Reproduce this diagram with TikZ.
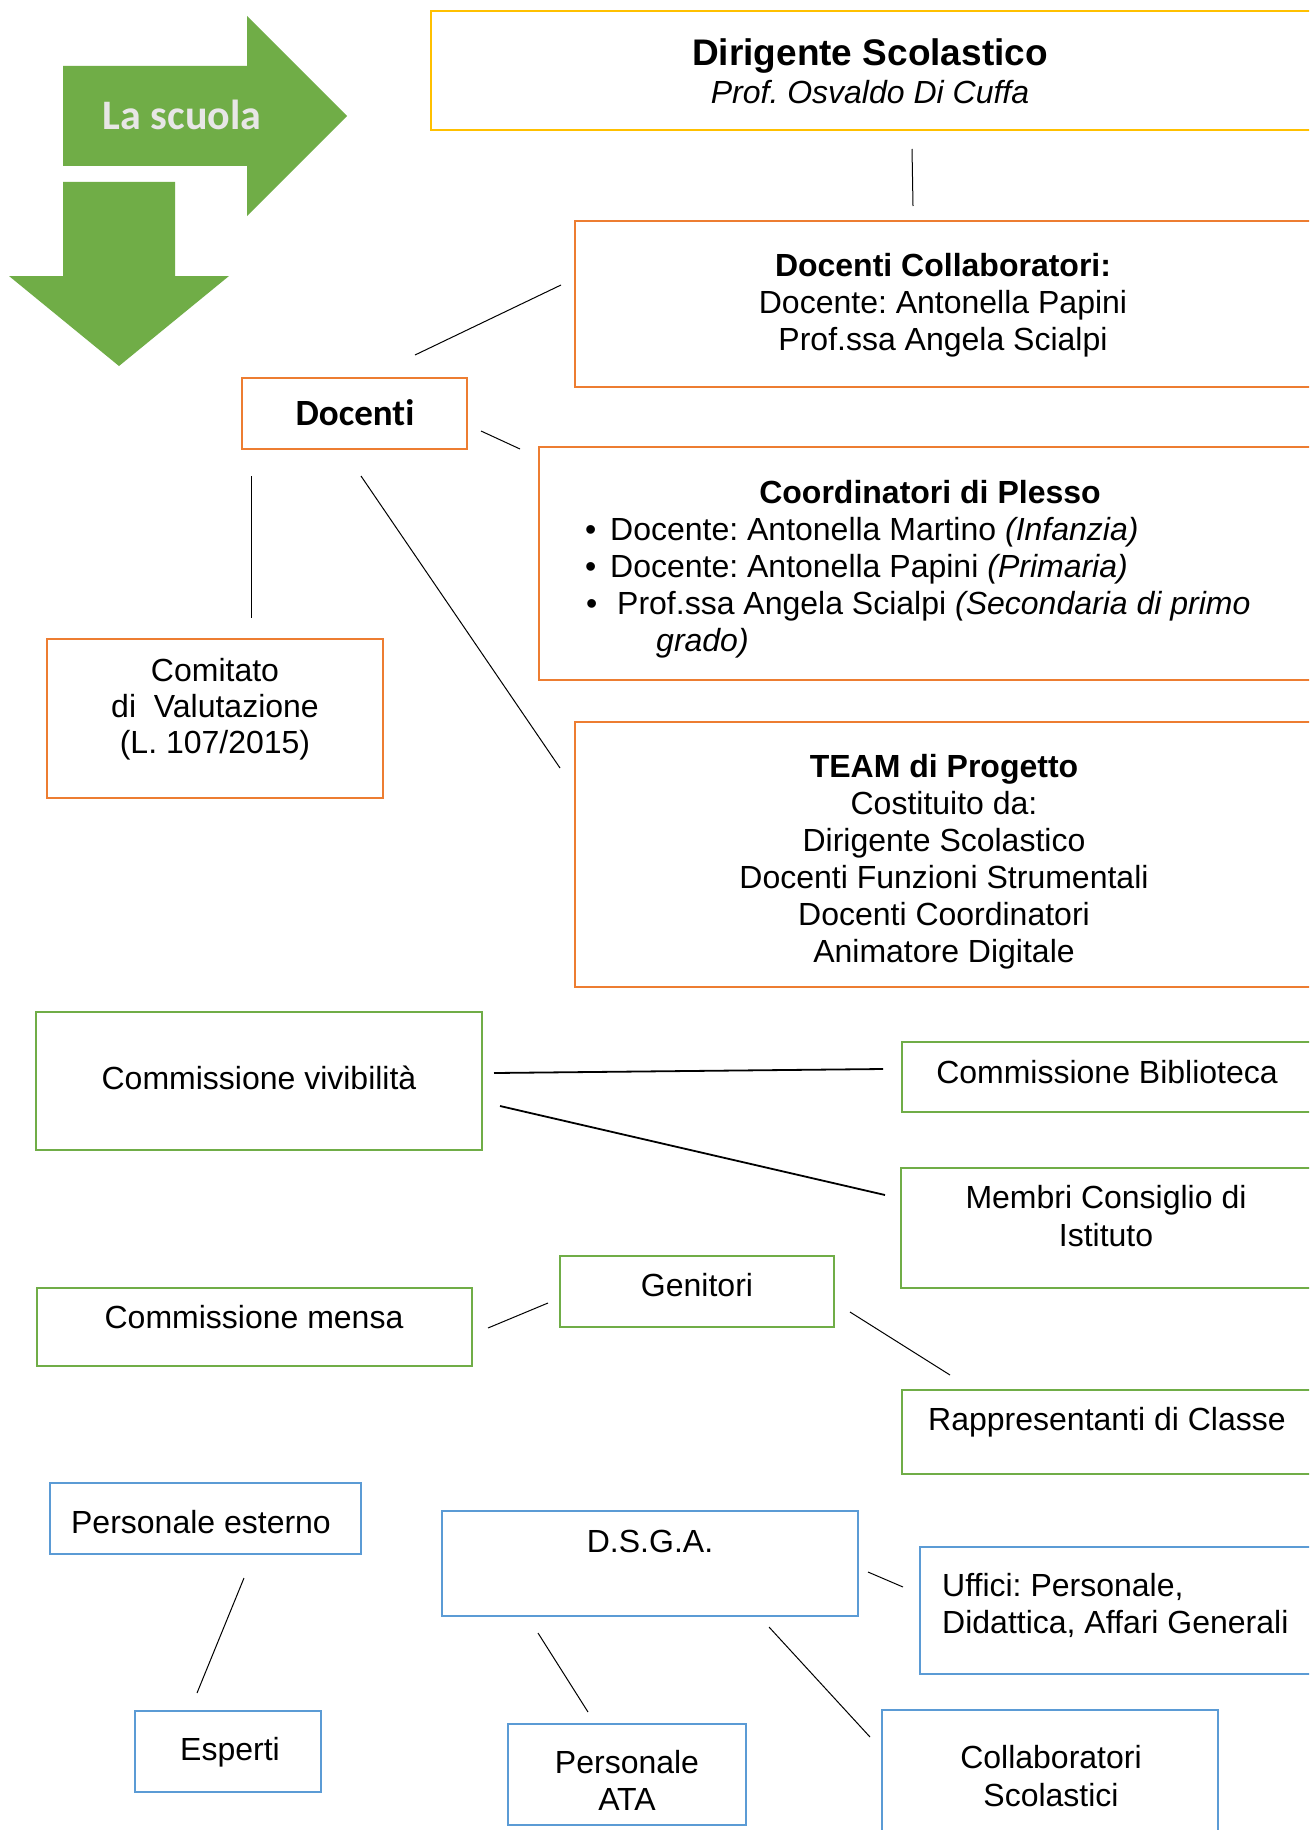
\documentclass[tikz,border=0pt]{standalone}
\usepackage{fontspec}
\setmainfont{Liberation Sans}
\newfontfamily\calibri[Ligatures=NoCommon]{Carlito}
\usetikzlibrary{fit}
\definecolor{boxyellow}{HTML}{FFC000}
\definecolor{boxorange}{HTML}{ED7D31}
\definecolor{boxgreen}{HTML}{70AD47}
\definecolor{boxblue}{HTML}{5B9BD5}
\definecolor{arrowgreen}{HTML}{70AD47}
\definecolor{labelgrey}{HTML}{E7E6E6}
\frenchspacing

\begin{document}
\begin{tikzpicture}[x=1pt,y=-1pt,
  frame/.style={draw, line width=2.8pt, inner sep=0pt},
  yframe/.style={frame, draw=boxyellow},
  oframe/.style={frame, draw=boxorange},
  gframe/.style={frame, draw=boxgreen},
  bframe/.style={frame, draw=boxblue},
  % multi-line texts are anchored at the baseline of their last line
  txt/.style={inner sep=0pt, anchor=base, align=center, font=\fontsize{32}{37}\selectfont},
  ltxt/.style={inner sep=0pt, anchor=base west, align=left, font=\fontsize{32}{37}\selectfont},
  link/.style={line width=1pt, black},
  heavylink/.style={line width=1.8pt, black},
]
\useasboundingbox (0,0) rectangle (1309,1830);
\fill[white] (0,0) rectangle (1309,1830);
\clip (0,0) rectangle (1309,1830);

% green block arrows
\fill[arrowgreen] (63,66) -- (247,66) -- (247,16) -- (347,116) -- (247,216) -- (247,166) -- (63,166) -- cycle;
\fill[arrowgreen] (63,182) -- (175,182) -- (175,276) -- (229,276) -- (119,366) -- (9,276) -- (63,276) -- cycle;
\node[inner sep=0pt, anchor=base, text=labelgrey, font=\calibri\bfseries\fontsize{42}{48}\selectfont] (lascuola) at (182,130) {La scuola};

% frames
\node[yframe, fit={(431,11) (1320,130)}] (dir) {};
\node[oframe, fit={(575,221) (1320,387)}] (collab) {};
\node[oframe, fit={(242,378) (467,449)}] (docenti) {};
\node[oframe, fit={(539,447) (1320,680)}] (coord) {};
\node[oframe, fit={(47,639) (383,798)}] (comitato) {};
\node[oframe, fit={(575,722) (1320,987)}] (team) {};
\node[gframe, fit={(36,1012) (482,1150)}] (viv) {};
\node[gframe, fit={(902,1042) (1320,1112)}] (biblio) {};
\node[gframe, fit={(901,1168) (1320,1288)}] (membri) {};
\node[gframe, fit={(560,1256) (834,1327)}] (genitori) {};
\node[gframe, fit={(37,1288) (472,1366)}] (mensa) {};
\node[gframe, fit={(902,1390) (1320,1474)}] (rapp) {};
\node[bframe, fit={(50,1483) (361,1554)}] (esterno) {};
\node[bframe, fit={(442,1511) (858,1616)}] (dsga) {};
\node[bframe, fit={(920,1547) (1320,1674)}] (uffici) {};
\node[bframe, fit={(135,1711) (321,1792)}] (esperti) {};
\node[bframe, fit={(508,1724) (746,1825)}] (ata) {};
\node[bframe, fit={(882,1710) (1218,1840)}] (collscol) {};

% texts
\node[txt, font=\bfseries\fontsize{37}{38}\selectfont] (dir-t1) at (870,66) {Dirigente Scolastico};
\node[txt, font=\itshape\fontsize{32}{37}\selectfont] (dir-t2) at (870,104) {Prof. Osvaldo Di Cuffa};
\node[txt] (collab-t) at (943,350) {\textbf{Docenti Collaboratori:}\\Docente: Antonella Papini\\Prof.ssa Angela Scialpi};
\node[inner sep=0pt, anchor=base, font=\calibri\bfseries\fontsize{37}{40}\selectfont] (docenti-t) at (355,425) {Docenti};
\node[txt] (coord-t) at (930,503) {\textbf{Coordinatori di Plesso}};
\node[ltxt] (coord-l1) at (585,540) {\makebox[25pt][l]{•}Docente: Antonella Martino \textit{(Infanzia)}};
\node[ltxt] (coord-l2) at (585,577) {\makebox[25pt][l]{•}Docente: Antonella Papini \textit{(Primaria)}};
\node[ltxt] (coord-l3) at (586,614) {\makebox[31pt][l]{•}Prof.ssa Angela Scialpi \textit{(Secondaria di primo}};
\node[ltxt] (coord-l4) at (656,651) {\textit{grado)}};
\node[txt, font=\fontsize{32}{36}\selectfont] (comitato-t) at (215,753) {Comitato\\di\ \ Valutazione\\(L. 107/2015)};
\node[txt] (team-t) at (944,962) {\textbf{TEAM di Progetto}\\Costituito da:\\Dirigente Scolastico\\Docenti Funzioni Strumentali\\Docenti Coordinatori\\Animatore Digitale};
\node[txt] (viv-t) at (259,1089) {Commissione vivibilità};
\node[txt] (biblio-t) at (1107,1083) {Commissione Biblioteca};
\node[txt, font=\fontsize{32}{38}\selectfont] (membri-t) at (1106,1246) {Membri Consiglio di\\Istituto};
\node[txt] (genitori-t) at (697,1296) {Genitori};
\node[txt] (mensa-t) at (254,1328) {Commissione mensa};
\node[txt] (rapp-t) at (1107,1430) {Rappresentanti di Classe};
\node[txt] (esterno-t) at (201,1533) {Personale esterno};
\node[txt] (dsga-t) at (650,1552) {D.S.G.A.};
\node[ltxt] (uffici-t) at (942,1633) {Uffici: Personale,\\Didattica, Affari Generali};
\node[txt] (esperti-t) at (230,1760) {Esperti};
\node[txt] (ata-t) at (627,1810) {Personale\\ATA};
\node[txt, font=\fontsize{32}{38}\selectfont] (collscol-t) at (1051,1806) {Collaboratori\\Scolastici};

% connector end points
\coordinate (dir-c) at (912,149);      \coordinate (collab-c1) at (913,206);
\coordinate (docenti-c1) at (415,355); \coordinate (collab-c2) at (561,285);
\coordinate (docenti-c2) at (481,431); \coordinate (coord-c) at (520,449);
\coordinate (docenti-c3) at (251,476); \coordinate (comitato-c) at (251,618);
\coordinate (docenti-c4) at (361,476); \coordinate (team-c) at (560,768);
\coordinate (viv-c1) at (494,1073);    \coordinate (biblio-c) at (883,1069);
\coordinate (viv-c2) at (500,1106);    \coordinate (membri-c) at (885,1195);
\coordinate (mensa-c) at (488,1328);   \coordinate (genitori-c1) at (548,1303);
\coordinate (genitori-c2) at (850,1312); \coordinate (rapp-c) at (950,1375);
\coordinate (esterno-c) at (244,1578); \coordinate (esperti-c) at (197,1693);
\coordinate (dsga-c1) at (868,1572);   \coordinate (uffici-c) at (903,1587);
\coordinate (dsga-c2) at (538,1633);   \coordinate (ata-c) at (588,1712);
\coordinate (dsga-c3) at (769,1627);   \coordinate (collscol-c) at (870,1737);

% connectors
\draw[link] (dir-c) -- (collab-c1);
\draw[link] (docenti-c1) -- (collab-c2);
\draw[link] (docenti-c2) -- (coord-c);
\draw[link] (docenti-c3) -- (comitato-c);
\draw[link] (docenti-c4) -- (team-c);
\draw[heavylink] (viv-c1) -- (biblio-c);
\draw[heavylink] (viv-c2) -- (membri-c);
\draw[link] (mensa-c) -- (genitori-c1);
\draw[link] (genitori-c2) -- (rapp-c);
\draw[link] (esterno-c) -- (esperti-c);
\draw[link] (dsga-c1) -- (uffici-c);
\draw[link] (dsga-c2) -- (ata-c);
\draw[link] (dsga-c3) -- (collscol-c);
\end{tikzpicture}
\end{document}
